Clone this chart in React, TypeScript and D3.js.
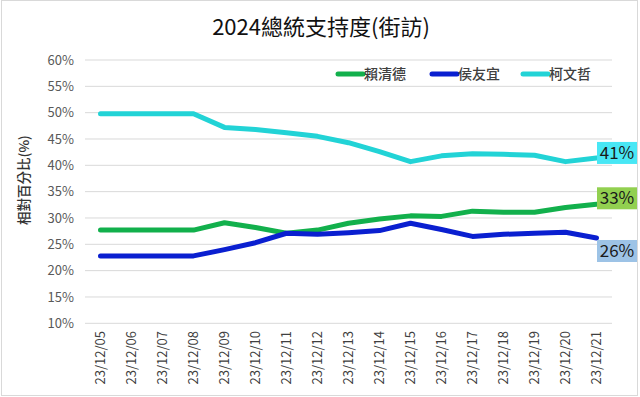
import React, { useRef, useEffect } from 'react';
import * as d3 from 'd3';

const dates = [
  '23/12/05', '23/12/06', '23/12/07', '23/12/08', '23/12/09', '23/12/10',
  '23/12/11', '23/12/12', '23/12/13', '23/12/14', '23/12/15', '23/12/16',
  '23/12/17', '23/12/18', '23/12/19', '23/12/20', '23/12/21',
];

const seriesNames = ['賴清德', '侯友宜', '柯文哲'];

const lai = [27.7, 27.7, 27.7, 27.7, 29.1, 28.2, 27.1, 27.7, 29.0, 29.8, 30.4, 30.3, 31.3, 31.1, 31.1, 32.0, 32.6];
const hou = [22.8, 22.8, 22.8, 22.8, 24.0, 25.3, 27.1, 26.9, 27.2, 27.6, 29.0, 27.8, 26.5, 26.9, 27.1, 27.3, 26.2];
const ko = [49.8, 49.8, 49.8, 49.8, 47.2, 46.8, 46.2, 45.5, 44.3, 42.6, 40.7, 41.8, 42.2, 42.1, 41.9, 40.7, 41.4];

const endLabels = ['33%', '26%', '41%'];
const yTicks = [10, 15, 20, 25, 30, 35, 40, 45, 50, 55, 60];

const WIDTH = 640;
const HEIGHT = 397;
const FONT = '"Noto Sans CJK TC", "Noto Sans", sans-serif';

const lineColors = ['#12B04C', '#0A1FD0', '#22D3D6'];
const boxColors = ['#92D050', '#9DC3E6', '#48E7F5'];
const boxOffsets = [-6, 13, -5];

const App: React.FC = () => {
  const svgRef = useRef<SVGSVGElement>(null);

  useEffect(() => {
    if (!svgRef.current) return;
    const svg = d3.select(svgRef.current);
    svg.selectAll('*').remove();

    const xScale = d3.scaleBand<string>().domain(dates).range([85, 612]);
    const yScale = d3.scaleLinear().domain([10, 60]).range([323.3, 60]);
    const cx = (d: string) => (xScale(d) ?? 0) + xScale.bandwidth() / 2;

    // frame
    svg.append('rect')
      .attr('x', 1.5).attr('y', 0.5)
      .attr('width', WIDTH - 4).attr('height', HEIGHT - 2)
      .attr('fill', '#fff').attr('stroke', '#d9d9d9');

    svg.append('text')
      .attr('x', 321).attr('y', 35)
      .attr('text-anchor', 'middle')
      .attr('font-family', FONT).attr('font-size', 22)
      .attr('fill', '#111')
      .text('2024總統支持度(街訪)');

    // grid + y ticks
    const grid = svg.append('g');
    yTicks.forEach(t => {
      grid.append('line')
        .attr('x1', 85).attr('x2', 612)
        .attr('y1', yScale(t)).attr('y2', yScale(t))
        .attr('stroke', '#d9d9d9').attr('stroke-width', 1);
      grid.append('text')
        .attr('x', 74).attr('y', yScale(t))
        .attr('dy', '0.35em')
        .attr('text-anchor', 'end')
        .attr('font-family', FONT).attr('font-size', 13)
        .attr('fill', '#595959')
        .text(`${t}%`);
    });

    svg.append('text')
      .attr('transform', `translate(24, 180) rotate(-90)`)
      .attr('dy', '0.35em')
      .attr('text-anchor', 'middle')
      .attr('font-family', FONT).attr('font-size', 13.5)
      .attr('font-weight', 500)
      .attr('fill', '#333')
      .text('相對百分比(%)');

    // x labels
    dates.forEach(d => {
      svg.append('text')
        .attr('transform', `translate(${cx(d)}, 331) rotate(-90)`)
        .attr('dy', '0.35em')
        .attr('text-anchor', 'end')
        .attr('font-family', FONT).attr('font-size', 13)
        .attr('fill', '#404040')
        .text(d);
    });

    const line = d3.line<number>()
      .x((_, i) => cx(dates[i]))
      .y(v => yScale(v));

    const allSeries = [lai, hou, ko];
    allSeries.forEach((s, k) => {
      svg.append('path')
        .datum(s)
        .attr('fill', 'none')
        .attr('stroke', lineColors[k])
        .attr('stroke-width', 5)
        .attr('stroke-linecap', 'round')
        .attr('stroke-linejoin', 'round')
        .attr('d', line);
    });

    // end labels
    allSeries.forEach((s, k) => {
      const yc = yScale(s[s.length - 1]) + boxOffsets[k];
      svg.append('rect')
        .attr('x', 597).attr('y', yc - 11)
        .attr('width', 40).attr('height', 22)
        .attr('fill', boxColors[k]);
      svg.append('text')
        .attr('x', 617).attr('y', yc)
        .attr('dy', '0.35em')
        .attr('text-anchor', 'middle')
        .attr('font-family', FONT).attr('font-size', 17)
        .attr('fill', '#1a1a1a')
        .text(endLabels[k]);
    });

    // legend
    const legendX = [338, 432, 523];
    seriesNames.forEach((name, k) => {
      const g = svg.append('g').attr('transform', `translate(${legendX[k]}, 74)`);
      g.append('line')
        .attr('x1', 0).attr('x2', 25)
        .attr('stroke', lineColors[k])
        .attr('stroke-width', 5)
        .attr('stroke-linecap', 'round');
      g.append('text')
        .attr('x', 26)
        .attr('dy', '0.35em')
        .attr('font-family', FONT).attr('font-size', 14)
        .attr('font-weight', 500)
        .attr('fill', '#404040')
        .text(name);
    });
  }, []);

  return (
    <>
      <style>{'body { margin: 0; }'}</style>
      <svg ref={svgRef} width={WIDTH} height={HEIGHT} style={{ display: 'block' }}></svg>
    </>
  );
};

export default App;
